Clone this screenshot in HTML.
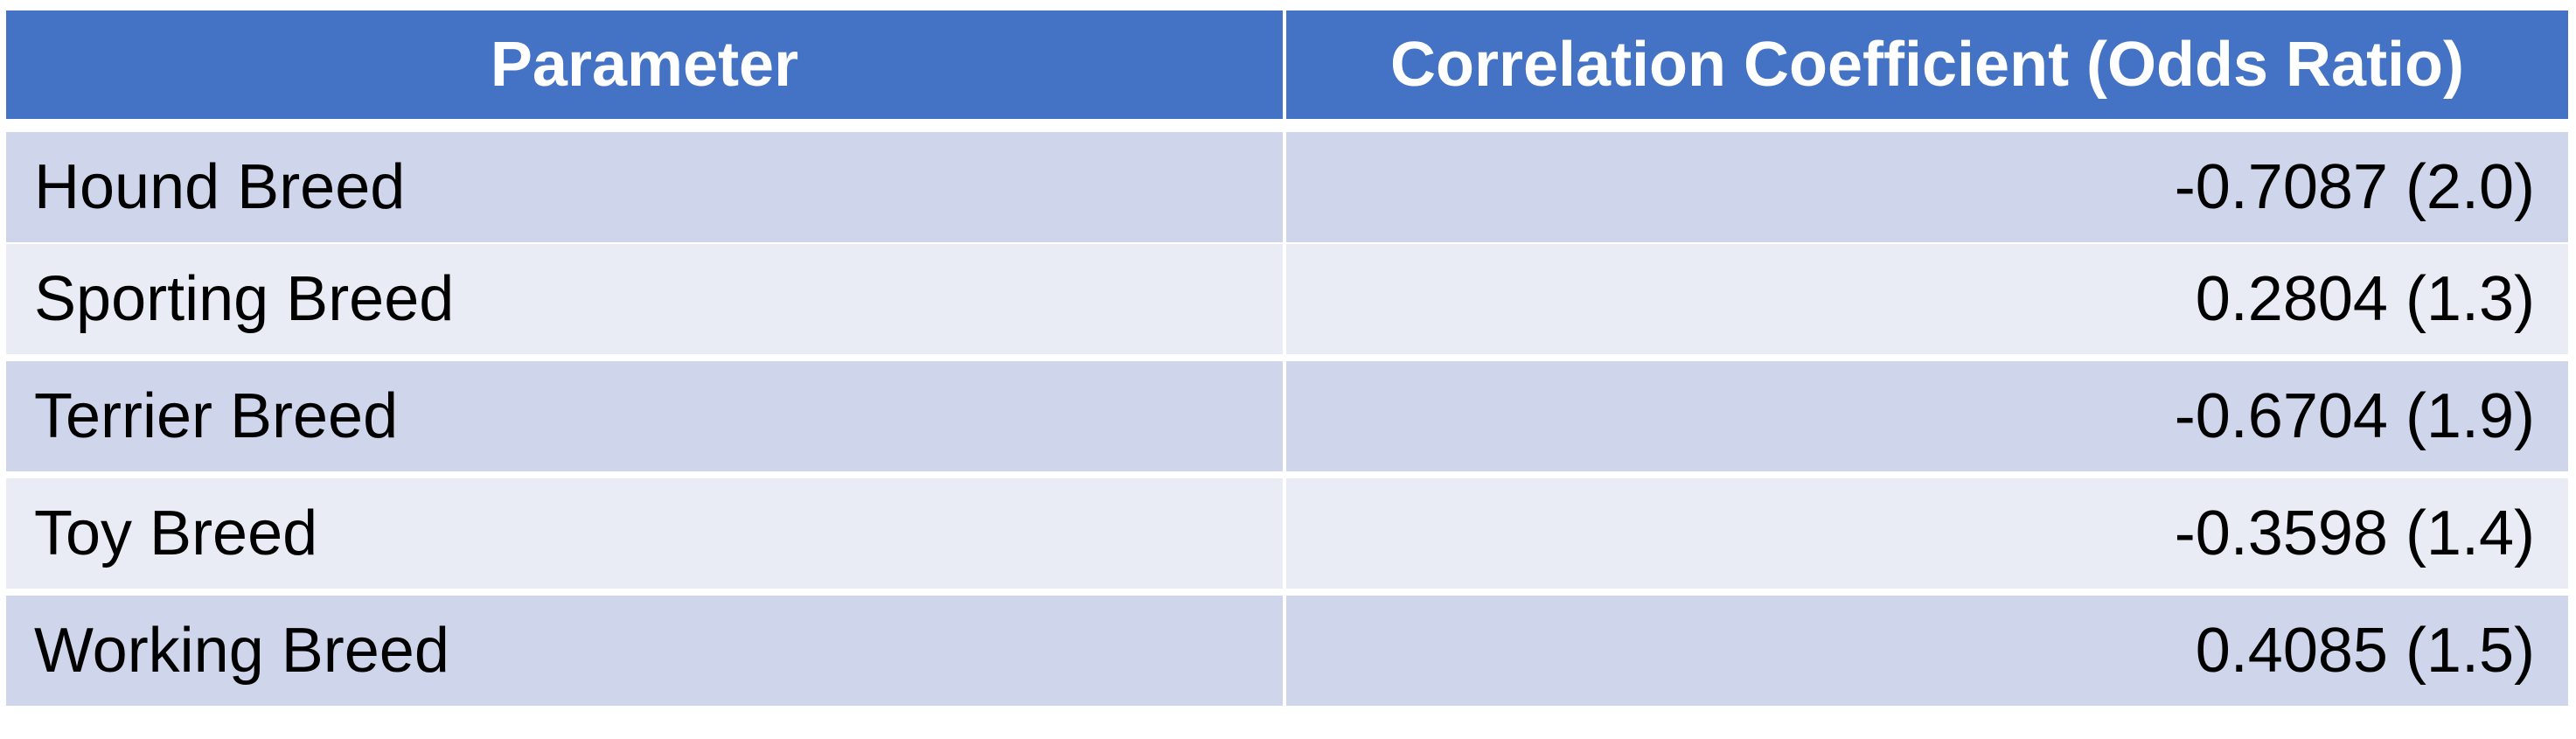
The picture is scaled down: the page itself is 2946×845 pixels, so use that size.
<!DOCTYPE html>
<html><head><meta charset="utf-8"><style>
html,body{margin:0;padding:0;background:#fff;width:2946px;height:845px;overflow:hidden}
.t{position:absolute;left:0;top:0;width:2946px;height:845px;font-family:"Liberation Sans",sans-serif}
.c{position:absolute;box-sizing:border-box;display:flex;align-items:center;font-size:72px;color:#000;white-space:nowrap}
.h{background:#4472C4;color:#fff;font-weight:bold;justify-content:center}
.l{padding-left:32px}
.r{justify-content:flex-end;padding-right:38px}
</style></head><body>
<div class="t" id="tbl"></div>
<script>
const params=["Hound Breed","Sporting Breed","Terrier Breed","Toy Breed","Working Breed"];
const coefs=["-0.7087","0.2804","-0.6704","-0.3598","0.4085"];
const odds=["2.0","1.3","1.9","1.4","1.5"];
const tbl=document.getElementById('tbl');
const L=7,D=1467,R=2937,DW=4;
const rowTops=[151,279,413,547,681], rowH=126;
function cell(x,y,w,h,cls,txt,name){
  const d=document.createElement('div');
  d.className='c '+cls;
  d.style.left=x+'px';d.style.top=y+'px';d.style.width=w+'px';d.style.height=h+'px';
  d.textContent=txt;
  
  
  tbl.appendChild(d);return d;
}
cell(L,12,D-L,124,'h','Parameter','header-parameter');
cell(D+DW,12,R-D-DW,124,'h','Correlation Coefficient (Odds Ratio)','header-correlation');
params.forEach((p,i)=>{
  const bg=i%2===0?'#CFD5EA':'#E9EBF5';
  const y=rowTops[i];
  const a=cell(L,y,D-L,rowH,'l',p,'parameter-cell');
  a.style.background=bg;
  const b=cell(D+DW,y,R-D-DW,rowH,'r',coefs[i]+' ('+odds[i]+')','correlation-cell');
  b.style.background=bg;
});
</script>
</body></html>
